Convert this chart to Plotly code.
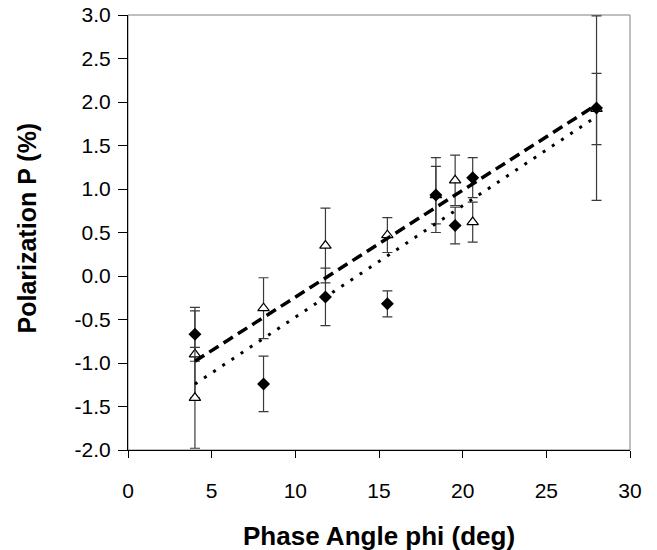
import numpy as np
import plotly.graph_objects as go

# Diamond series (filled)
dia_x = [4.0, 8.1, 11.8, 15.5, 18.4, 19.55, 20.6, 28.0]
dia_y = [-0.67, -1.24, -0.24, -0.32, 0.93, 0.58, 1.13, 1.93]
dia_err = [0.31, 0.32, 0.33, 0.15, 0.43, 0.21, 0.23, 1.06]

# Triangle series (open)
tri_x = [4.0, 4.0, 8.1, 11.8, 15.5, 18.4, 19.55, 20.6, 28.0]
tri_y = [-0.90, -1.40, -0.37, 0.35, 0.47, 0.93, 1.10, 0.62, 1.92]
tri_err = [0.50, 0.58, 0.35, 0.43, 0.20, 0.33, 0.29, 0.23, 0.41]

x_ticks = [0, 5, 10, 15, 20, 25, 30]
y_ticks = [-2.0, -1.5, -1.0, -0.5, 0.0, 0.5, 1.0, 1.5, 2.0, 2.5, 3.0]

x_title = "Phase Angle phi (deg)"
y_title = "Polarization P (%)"

# linear fits
tri_fit = np.polyfit(tri_x, tri_y, 1)
dia_fit = np.polyfit(dia_x, dia_y, 1)
fit_x = np.array([min(tri_x), max(tri_x)])

err_style = dict(type="data", color="#3a3a3a", thickness=1.2, width=5)

fig = go.Figure()
fig.add_trace(go.Scatter(
    x=tri_x, y=tri_y, mode="markers",
    error_y=dict(array=tri_err, **err_style),
    marker=dict(symbol="triangle-up", size=10, color="white",
                line=dict(color="black", width=1.2)),
    showlegend=False))
fig.add_trace(go.Scatter(
    x=dia_x, y=dia_y, mode="markers",
    error_y=dict(array=dia_err, **err_style),
    marker=dict(symbol="diamond", size=10, color="black",
                line=dict(color="black", width=0)),
    showlegend=False))
fig.add_trace(go.Scatter(
    x=fit_x, y=np.polyval(tri_fit, fit_x), mode="lines",
    line=dict(color="black", width=3.5, dash="11px,6px"),
    showlegend=False))
fig.add_trace(go.Scatter(
    x=fit_x, y=np.polyval(dia_fit, fit_x), mode="lines",
    line=dict(color="black", width=3, dash="3px,8px"),
    showlegend=False))

fig.add_shape(type="rect", xref="paper", yref="paper", x0=0, x1=1, y0=0, y1=1,
              line=dict(color="#808080", width=1), layer="below")

fig.add_annotation(text=f"<b>{x_title}</b>", xref="paper", yref="paper",
                   x=0.5, y=0, yshift=-86, xanchor="center", yanchor="middle",
                   showarrow=False, font=dict(size=26))
fig.add_annotation(text=f"<b>{y_title}</b>", xref="paper", yref="paper",
                   x=0, y=0.5, xshift=-102, yshift=4, xanchor="center", yanchor="middle",
                   textangle=-90, showarrow=False, font=dict(size=25))

font_family = "Liberation Sans, Arial, sans-serif"
fig.update_layout(
    width=649, height=542,
    margin=dict(l=120, r=27, t=7, b=100),
    paper_bgcolor="white", plot_bgcolor="white",
    font=dict(family=font_family, size=21, color="black"),
    xaxis=dict(
        range=[0, 30], tickvals=x_ticks, ticktext=[str(v) for v in x_ticks],
        showgrid=False, zeroline=False, showline=True, linecolor="black", linewidth=1,
        ticks="outside", ticklen=7, tickcolor="black", tickwidth=1,
        ticklabelstandoff=15, automargin=False,
    ),
    yaxis=dict(
        range=[-2, 3], tickvals=y_ticks, ticktext=[f"{v:.1f}" for v in y_ticks],
        showgrid=False, zeroline=False, showline=True, linecolor="black", linewidth=1,
        ticks="outside", ticklen=9, tickcolor="black", tickwidth=1,
        ticklabelstandoff=3, automargin=False, ticklabeloverflow="allow",
    ),
)

fig.write_html("out.html")
